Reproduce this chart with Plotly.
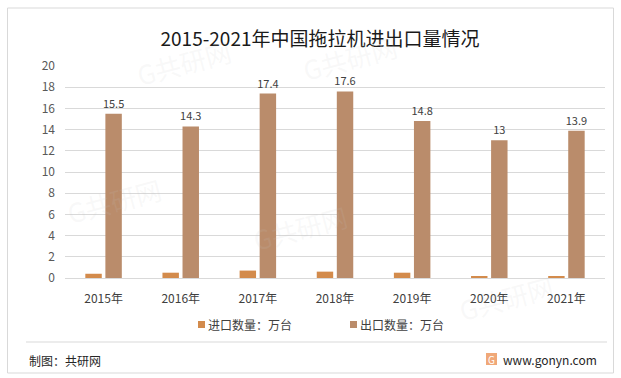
import plotly.graph_objects as go

W, H = 621, 378
L, R, T, B = 65, 16, 66, 100
PW, PH = W - L - R, H - T - B

years = ["2015年", "2016年", "2017年", "2018年", "2019年", "2020年", "2021年"]
imports = [0.4, 0.5, 0.7, 0.6, 0.5, 0.1, 0.1]
exports = [15.5, 14.3, 17.4, 17.6, 14.8, 13, 13.9]
y_ticks = [0, 2, 4, 6, 8, 10, 12, 14, 16, 18, 20]
series_names = ["进口数量：万台", "出口数量：万台"]
series_colors = ["#D38B4C", "#BA8C6B"]

FONT = "Noto Sans CJK SC"

def px(x):
    return (x - L) / PW

def py(y):
    return (H - B - y) / PH

fig = go.Figure()
fig.add_trace(go.Bar(
    x=years, y=imports, name=series_names[0],
    marker=dict(color=series_colors[0], line=dict(width=0)),
))
fig.add_trace(go.Bar(
    x=years, y=exports, name=series_names[1],
    marker=dict(color=series_colors[1], line=dict(width=0)),
    text=[f"{v:g}" for v in exports], textposition="outside",
    textfont=dict(size=11, color="#404040", family=FONT),
    constraintext="none", cliponaxis=False,
))

shapes = [
    dict(type="rect", xref="paper", yref="paper",
         x0=px(7.5), x1=px(613.5), y0=py(8), y1=py(373),
         line=dict(color="#D9D9D9", width=1), fillcolor="rgba(0,0,0,0)", layer="below"),
    dict(type="line", xref="paper", yref="paper",
         x0=px(26), x1=px(607), y0=py(342), y1=py(342),
         line=dict(color="#D9D9D9", width=1)),
    dict(type="rect", xref="paper", yref="paper",
         x0=px(486), x1=px(497), y0=py(353), y1=py(365),
         line=dict(width=0), fillcolor="#F0A878"),
]

annotations = [
    dict(text="制图：共研网", xref="paper", yref="paper", x=px(27), y=py(360),
         xanchor="left", yanchor="middle", showarrow=False,
         font=dict(size=12, color="#262626", family=FONT)),
    dict(text="www.gonyn.com", xref="paper", yref="paper", x=px(501), y=py(359),
         xanchor="left", yanchor="middle", showarrow=False,
         font=dict(size=12, color="#262626", family=FONT)),
    dict(text="G", xref="paper", yref="paper", x=px(491.5), y=py(359),
         xanchor="center", yanchor="middle", showarrow=False,
         font=dict(size=10, color="white", family=FONT)),
]

# manual legend
for lx, name, col in zip([198, 350], series_names, series_colors):
    shapes.append(dict(type="rect", xref="paper", yref="paper",
                       x0=px(lx), x1=px(lx + 7), y0=py(321), y1=py(328),
                       line=dict(width=0), fillcolor=col))
    annotations.append(dict(text=name, xref="paper", yref="paper", x=px(lx + 8), y=py(324.5),
                            xanchor="left", yanchor="middle", showarrow=False,
                            font=dict(size=12, color="#404040", family=FONT)))

# faint watermarks
for (wx, wy) in [(130, 30), (350, 25), (300, 260), (60, 200), (560, 330)]:
    annotations.append(dict(text="G共研网", xref="paper", yref="paper",
                            x=px(wx), y=py(wy), showarrow=False, textangle=-15,
                            font=dict(size=26, color="rgba(200,200,200,0.12)", family=FONT)))

fig.update_layout(
    width=W, height=H,
    margin=dict(l=L, r=R, t=T, b=B, autoexpand=False),
    paper_bgcolor="white", plot_bgcolor="white",
    title=dict(text="2015-2021年中国拖拉机进出口量情况", x=320 / W, xanchor="center",
               y=1 - 39 / H, yanchor="middle",
               font=dict(size=19, color="#1a1a1a", family=FONT)),
    barmode="group", bargap=0.48, bargroupgap=0.18,
    showlegend=False,
    xaxis=dict(showgrid=False, showline=True, linecolor="#D9D9D9", linewidth=1,
               ticks="", ticklabelstandoff=10,
               tickfont=dict(size=12, color="#404040", family=FONT)),
    yaxis=dict(range=[0, 20], tickvals=y_ticks, showgrid=True, gridcolor="#D9D9D9",
               gridwidth=1, zeroline=False, showline=False, ticks="",
               ticklen=0, ticklabelstandoff=9,
               tickfont=dict(size=12, color="#595959", family=FONT)),
    shapes=shapes, annotations=annotations,
    font=dict(family=FONT),
)

fig.write_html("out.html", config={"displayModeBar": False},
               post_script="document.body.style.margin='0';document.body.style.overflow='hidden';")
